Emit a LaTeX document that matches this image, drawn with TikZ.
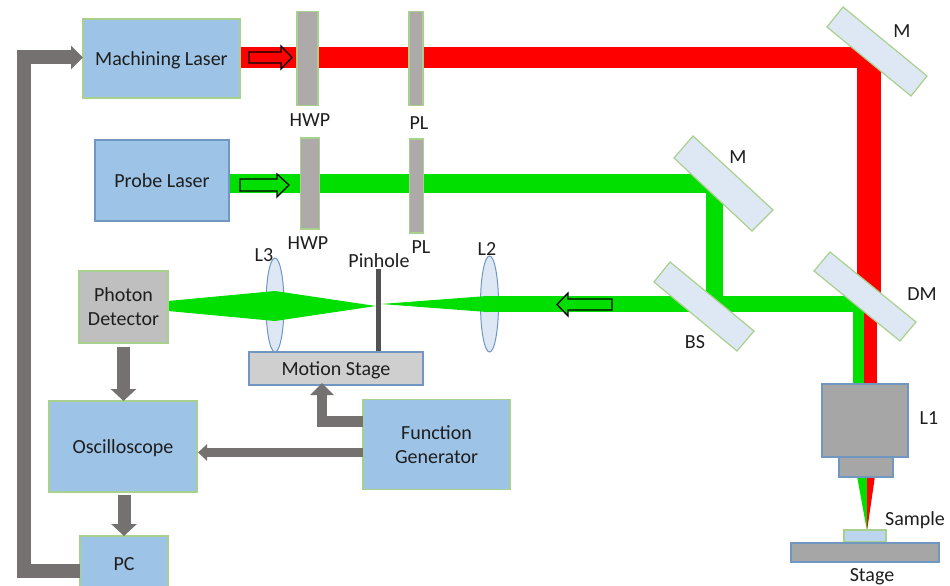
\documentclass[tikz,border=0pt]{standalone}
\usepackage{fontspec}
\setmainfont{Carlito}
\usetikzlibrary{arrows.meta}
\definecolor{boxblue}{HTML}{9DC3E6}
\definecolor{edgegreen}{HTML}{A9D18E}
\definecolor{edgeblue}{HTML}{6F97C2}
\definecolor{mirrorblue}{HTML}{DEE8F4}
\definecolor{plategrey}{HTML}{AEAAAA}
\definecolor{arrowgrey}{HTML}{767171}
\definecolor{beamgreen}{HTML}{00DF00}
\definecolor{beamred}{HTML}{FF0000}
\definecolor{textdark}{HTML}{1E1E1E}
\tikzset{
  lbltext/.style={font=\fontsize{20}{24}\selectfont,text=textdark,inner sep=0pt,align=center},
  oneline/.style={text height=16pt,text depth=2pt},
  lbl/.style={lbltext,oneline},
  box/.style={draw=edgegreen,fill=boxblue,line width=1.3pt,inner sep=0pt,outer sep=0pt,lbltext},
  greybox/.style={box,fill=#1,draw=edgeblue},
  plate/.style={draw=edgegreen,fill=plategrey,line width=1.2pt,inner sep=0pt,outer sep=0pt},
  mirror/.style={draw=edgegreen,fill=mirrorblue,line width=1.2pt},
  lens/.style={draw=edgeblue,fill=mirrorblue,line width=1pt},
  hollow/.style={draw=black,line width=1.3pt,miter limit=4},
  conn/.style={draw=arrowgrey,line width=#1,line join=miter},
}
\begin{document}
\begin{tikzpicture}[x=1pt,y=-1pt]
\clip (0,0) rectangle (950,586);
\fill[white] (0,0) rectangle (950,586);

% lenses
\draw[lens] (275,305) ellipse [x radius=9,y radius=47];
\draw[lens] (489.5,304) ellipse [x radius=9,y radius=48];

% beams
\fill[beamred] (240,47) rectangle (881,68);
\fill[beamred] (857,47) rectangle (881,300);
\fill[beamred] (864,300) rectangle (877,385);
\fill[beamgreen] (229,174) rectangle (723,193);
\fill[beamgreen] (706,174) rectangle (723,300);
\fill[beamgreen] (487,296) rectangle (864,312);
\fill[beamgreen] (853,300) rectangle (864,385);
\fill[beamgreen] (168,301) -- (275,291) -- (376,306) -- (275,321) -- (168,311) -- cycle;
\fill[beamgreen] (381,304) -- (487,296) -- (487,312) -- cycle;
\fill[beamgreen] (857,476) -- (867,476) -- (867,531) -- cycle;
\fill[beamred] (867,476) -- (875,476) -- (867,531) -- cycle;

% direction arrows on the beams
\draw[hollow,fill=beamred] (249,52) -- (281,52) -- (281,46) -- (292,57.5) -- (281,69) -- (281,63) -- (249,63) -- cycle;
\draw[hollow,fill=beamgreen] (240,179) -- (277,179) -- (277,174) -- (289,185) -- (277,197) -- (277,191) -- (240,191) -- cycle;
\draw[hollow,fill=beamgreen] (612,299) -- (568,299) -- (568,293) -- (557,304.5) -- (568,316) -- (568,310) -- (612,310) -- cycle;

% mirrors
\draw[mirror] (843,7) -- (827,27) -- (911,96) -- (927,76) -- cycle;
\draw[mirror] (693,136) -- (674,158) -- (752,231) -- (773,210) -- cycle;
\draw[mirror] (670,262) -- (654,282) -- (737,351) -- (754,331) -- cycle;
\draw[mirror] (830,252) -- (814,271) -- (900,341) -- (916,322) -- cycle;

% plates
\node[plate,minimum width=21pt,minimum height=94pt] (hwpa) at (307.5,58.5) {};
\node[plate,minimum width=14pt,minimum height=94pt] (pla) at (416,58.5) {};
\node[plate,minimum width=19pt,minimum height=91pt] (hwpb) at (310,183.5) {};
\node[plate,minimum width=14pt,minimum height=94pt] (plb) at (416.5,186) {};

% pinhole
\fill[fill=black!68] (375.5,269) rectangle (381,352);

% boxes
\node[box,oneline,minimum width=157pt,minimum height=79pt] (ml) at (161.5,58.5) {Machining Laser};
\node[box,oneline,draw=edgeblue,minimum width=134pt,minimum height=81pt] (pr) at (162,180.5) {Probe Laser};
\node[box,fill=black!25,minimum width=89pt,minimum height=72pt] (pd) at (123.5,307) {Photon\\Detector};
\node[greybox=black!19,oneline,minimum width=174pt,minimum height=33pt] (ms) at (336,368.5) {Motion Stage};
\node[box,minimum width=147pt,minimum height=90pt] (fg) at (436.5,444.5) {Function\\Generator};
\node[box,oneline,minimum width=148pt,minimum height=91pt] (os) at (123,446.5) {Oscilloscope};
\node[box,oneline,minimum width=88pt,minimum height=54pt] (pc) at (124,563) {PC};

% objective, stage, sample
\node[greybox=black!35,minimum width=86pt,minimum height=73pt] (oba) at (865,420.5) {};
\node[greybox=black!35,minimum width=54pt,minimum height=20pt] (obb) at (866,467) {};
\node[box,fill=boxblue!70,minimum width=42pt,minimum height=12pt] (sa) at (865,536) {};
\node[greybox=black!35,minimum width=148pt,minimum height=19pt] (st) at (865,552.5) {};

% connectors
\coordinate (bend) at (24,57.5);
\draw[conn=14pt,-{Triangle[width=23pt,length=12pt]}] ([yshift=-8pt]pc.west) -| (bend) -- ([yshift=1pt]ml.west);
\draw[conn=13pt,-{Triangle[width=25pt,length=12pt]}] ([yshift=-4pt]pd.south) -- (os.north -| pd.south);
\draw[conn=13pt,-{Triangle[width=25pt,length=12pt]}] ([yshift=-3pt,xshift=1pt]os.south) -- ([xshift=0pt]pc.north);
\draw[conn=9pt,-{Triangle[width=16pt,length=9pt]}] ([yshift=-8pt]fg.west) -- ([yshift=-6pt,xshift=1pt]os.east);
\draw[conn=10.5pt,-{Triangle[width=23pt,length=12pt]}] ([yshift=23pt]fg.west) -| ([xshift=-14pt,yshift=2pt]ms.south);

% labels
\node[lbl] (lhwpa) at (310,119) {HWP};
\node[lbl] (lpla) at (419,122) {PL};
\node[lbl] (lhwpb) at (308,242) {HWP};
\node[lbl] (lplb) at (421,246) {PL};
\node[lbl] (ll3) at (264,254) {L3};
\node[lbl] (lph) at (379,260) {Pinhole};
\node[lbl] (ll2) at (487,248) {L2};
\node[lbl] (lma) at (902,31) {M};
\node[lbl] (lmb) at (738,156) {M};
\node[lbl] (ldm) at (922,293) {DM};
\node[lbl] (lbs) at (695,341) {BS};
\node[lbl] (ll1) at (929,417) {L1};
\node[lbl] (lsa) at (915,518) {Sample};
\node[lbl] (lst) at (872,574.5) {Stage};
\end{tikzpicture}
\end{document}
